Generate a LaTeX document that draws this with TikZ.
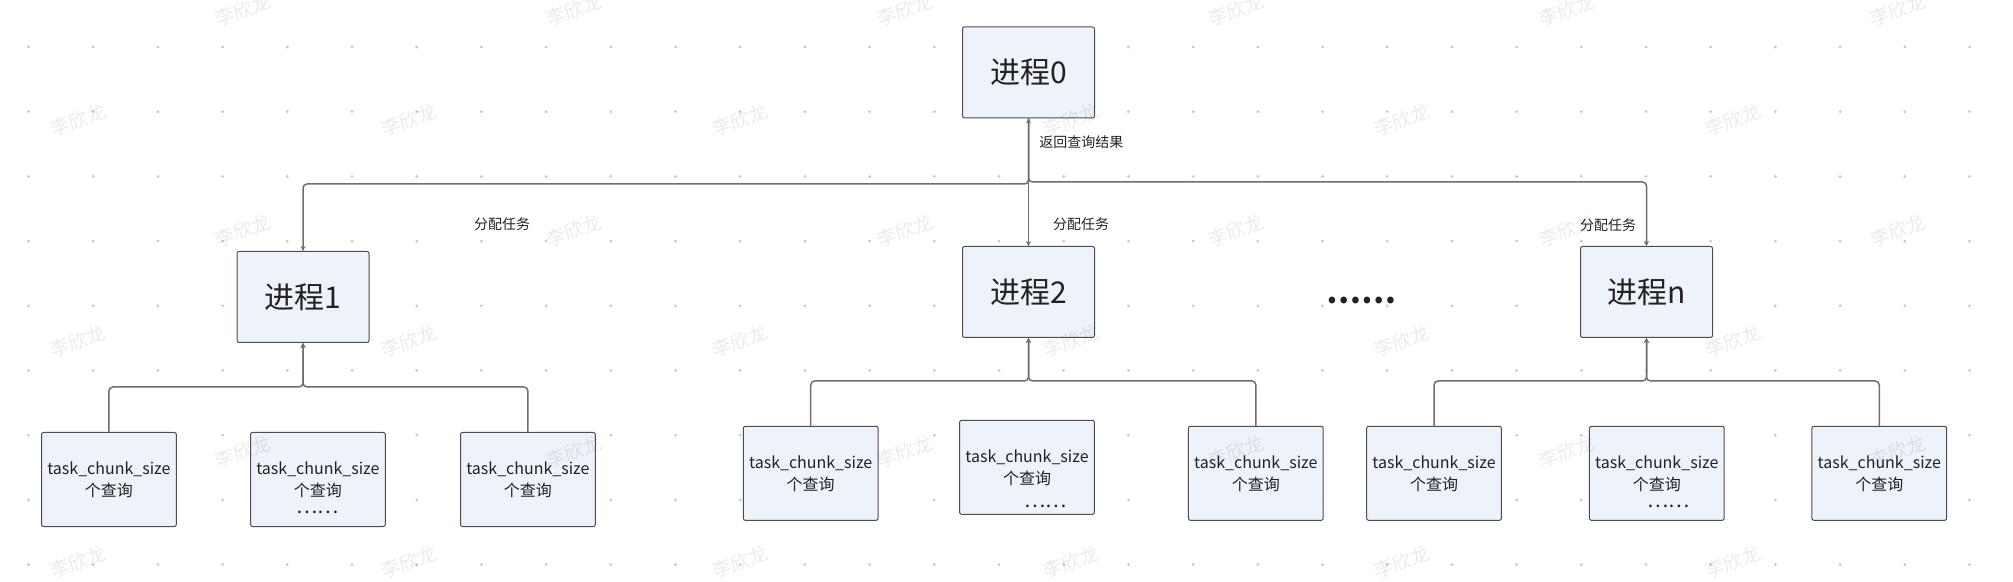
\documentclass[tikz,border=0pt]{standalone}
\usepackage{fontspec}
\setmainfont{Noto Sans CJK SC}
\usetikzlibrary{arrows.meta,positioning}
\definecolor{boxfill}{HTML}{EEF2FB}
\definecolor{boxline}{HTML}{4D4D4D}
\definecolor{wire}{HTML}{6E6E6E}
\definecolor{griddot}{HTML}{C4C6CC}
\definecolor{inktext}{HTML}{222222}
\tikzset{
    proc/.style={draw=boxline, fill=boxfill, line width=0.5pt, rounded corners=1pt,
        minimum width=66pt, minimum height=45.5pt, inner sep=0pt, text=inktext,
        font=\fontsize{15pt}{18pt}\selectfont},
    chunk/.style={draw=boxline, fill=boxfill, line width=0.5pt, rounded corners=1pt,
        minimum width=67.4pt, minimum height=47pt, inner sep=0pt, align=center, text=inktext,
        font=\fontsize{8pt}{11pt}\selectfont},
    conn/.style={draw=wire, line width=0.75pt, rounded corners=2pt,
        -{Stealth[length=2.5pt,width=2.6pt]}},
    lbl/.style={inner sep=0pt, text=inktext, font=\fontsize{7pt}{8pt}\selectfont},
    smalldots/.style={inner sep=0pt, text=inktext, font=\fontsize{10pt}{10pt}\selectfont},
    bigdots/.style={inner sep=0pt, text=inktext, font=\fontsize{15.5pt}{15.5pt}\selectfont\bfseries},
    wmark/.style={inner sep=0pt, text=black, opacity=0.08, rotate=20,
        font=\fontsize{9.5pt}{9.5pt}\selectfont}
}
\begin{document}
\begin{tikzpicture}[x=0.5pt, y=-0.5pt]
    \useasboundingbox (0,0) rectangle (2013,582);
    % dot grid
    \foreach \i in {0,...,30}
        \foreach \j in {0,...,8}
            \fill[griddot] (28.5+64.7*\i, 47+64.7*\j) circle (0.75pt);
    % processes
    \node[proc] (p0) at (1028.5,72.5) {进程0};
    \node[proc] (p1) at (303,297) {进程1};
    \node[proc] (p2) at (1028.5,292) {进程2};
    \node[proc] (pn) at (1646.5,292) {进程n};
    \node[bigdots] (more) at (1361,301) {……};
    % query chunks
    \node[chunk] (c11) at (108.9,479.5) {task\_chunk\_size\\个查询};
    \node[chunk] (c12) at (317.9,479.5) {task\_chunk\_size\\个查询};
    \node[chunk] (c13) at (527.9,479.5) {task\_chunk\_size\\个查询};
    \node[chunk] (c21) at (810.7,473.3) {task\_chunk\_size\\个查询};
    \node[chunk] (c22) at (1027,467.3) {task\_chunk\_size\\个查询};
    \node[chunk] (c23) at (1255.8,473.3) {task\_chunk\_size\\个查询};
    \node[chunk] (c31) at (1434,473.3) {task\_chunk\_size\\个查询};
    \node[chunk] (c32) at (1656.8,473.3) {task\_chunk\_size\\个查询};
    \node[chunk] (c33) at (1879.3,473.3) {task\_chunk\_size\\个查询};
    \node[smalldots] (d12) at (317.4,512) {……};
    \node[smalldots] (d22) at (1045.4,506.7) {……};
    \node[smalldots] (d32) at (1668.7,506.7) {……};
    % buses
    \coordinate (b1) at (1028.5,184);
    \coordinate (b2) at (1028.5,182);
    \coordinate (j1) at (303,387);
    \coordinate (j2) at (1028.5,381);
    \coordinate (jn) at (1646.5,381);
    % assign / return
    \draw[conn] (p0.south) -- (b1) -| (p1.north);
    \draw[conn] (p0.south) -- (b2) -| (pn.north);
    \draw[conn] (p0.south) -- (p2.north);
    \draw[conn] (p2.north) -- (p0.south);
    \node[lbl, anchor=west] (lret) at (1039,142) {返回查询结果};
    \node[lbl] (la1) at (502,224) {分配任务};
    \node[lbl] (la2) at (1081,224) {分配任务};
    \node[lbl] (la3) at (1608,225) {分配任务};
    % chunks to process
    \draw[conn] (c11.north) |- (j1) -- (p1.south);
    \draw[conn] (c13.north) |- (j1) -- (p1.south);
    \draw[conn] (c21.north) |- (j2) -- (p2.south);
    \draw[conn] (c23.north) |- (j2) -- (p2.south);
    \draw[conn] (c31.north) |- (jn) -- (pn.south);
    \draw[conn] (c33.north) |- (jn) -- (pn.south);
    % watermark
    \foreach \r in {0,...,5}{
        \pgfmathsetmacro{\xs}{mod(\r,2)==1 ? 78 : 243}
        \foreach \k in {0,...,5}
            \node[wmark] (w\r\k) at (\xs+331*\k, 10+110.4*\r) {李欣龙};
    }
\end{tikzpicture}
\end{document}
